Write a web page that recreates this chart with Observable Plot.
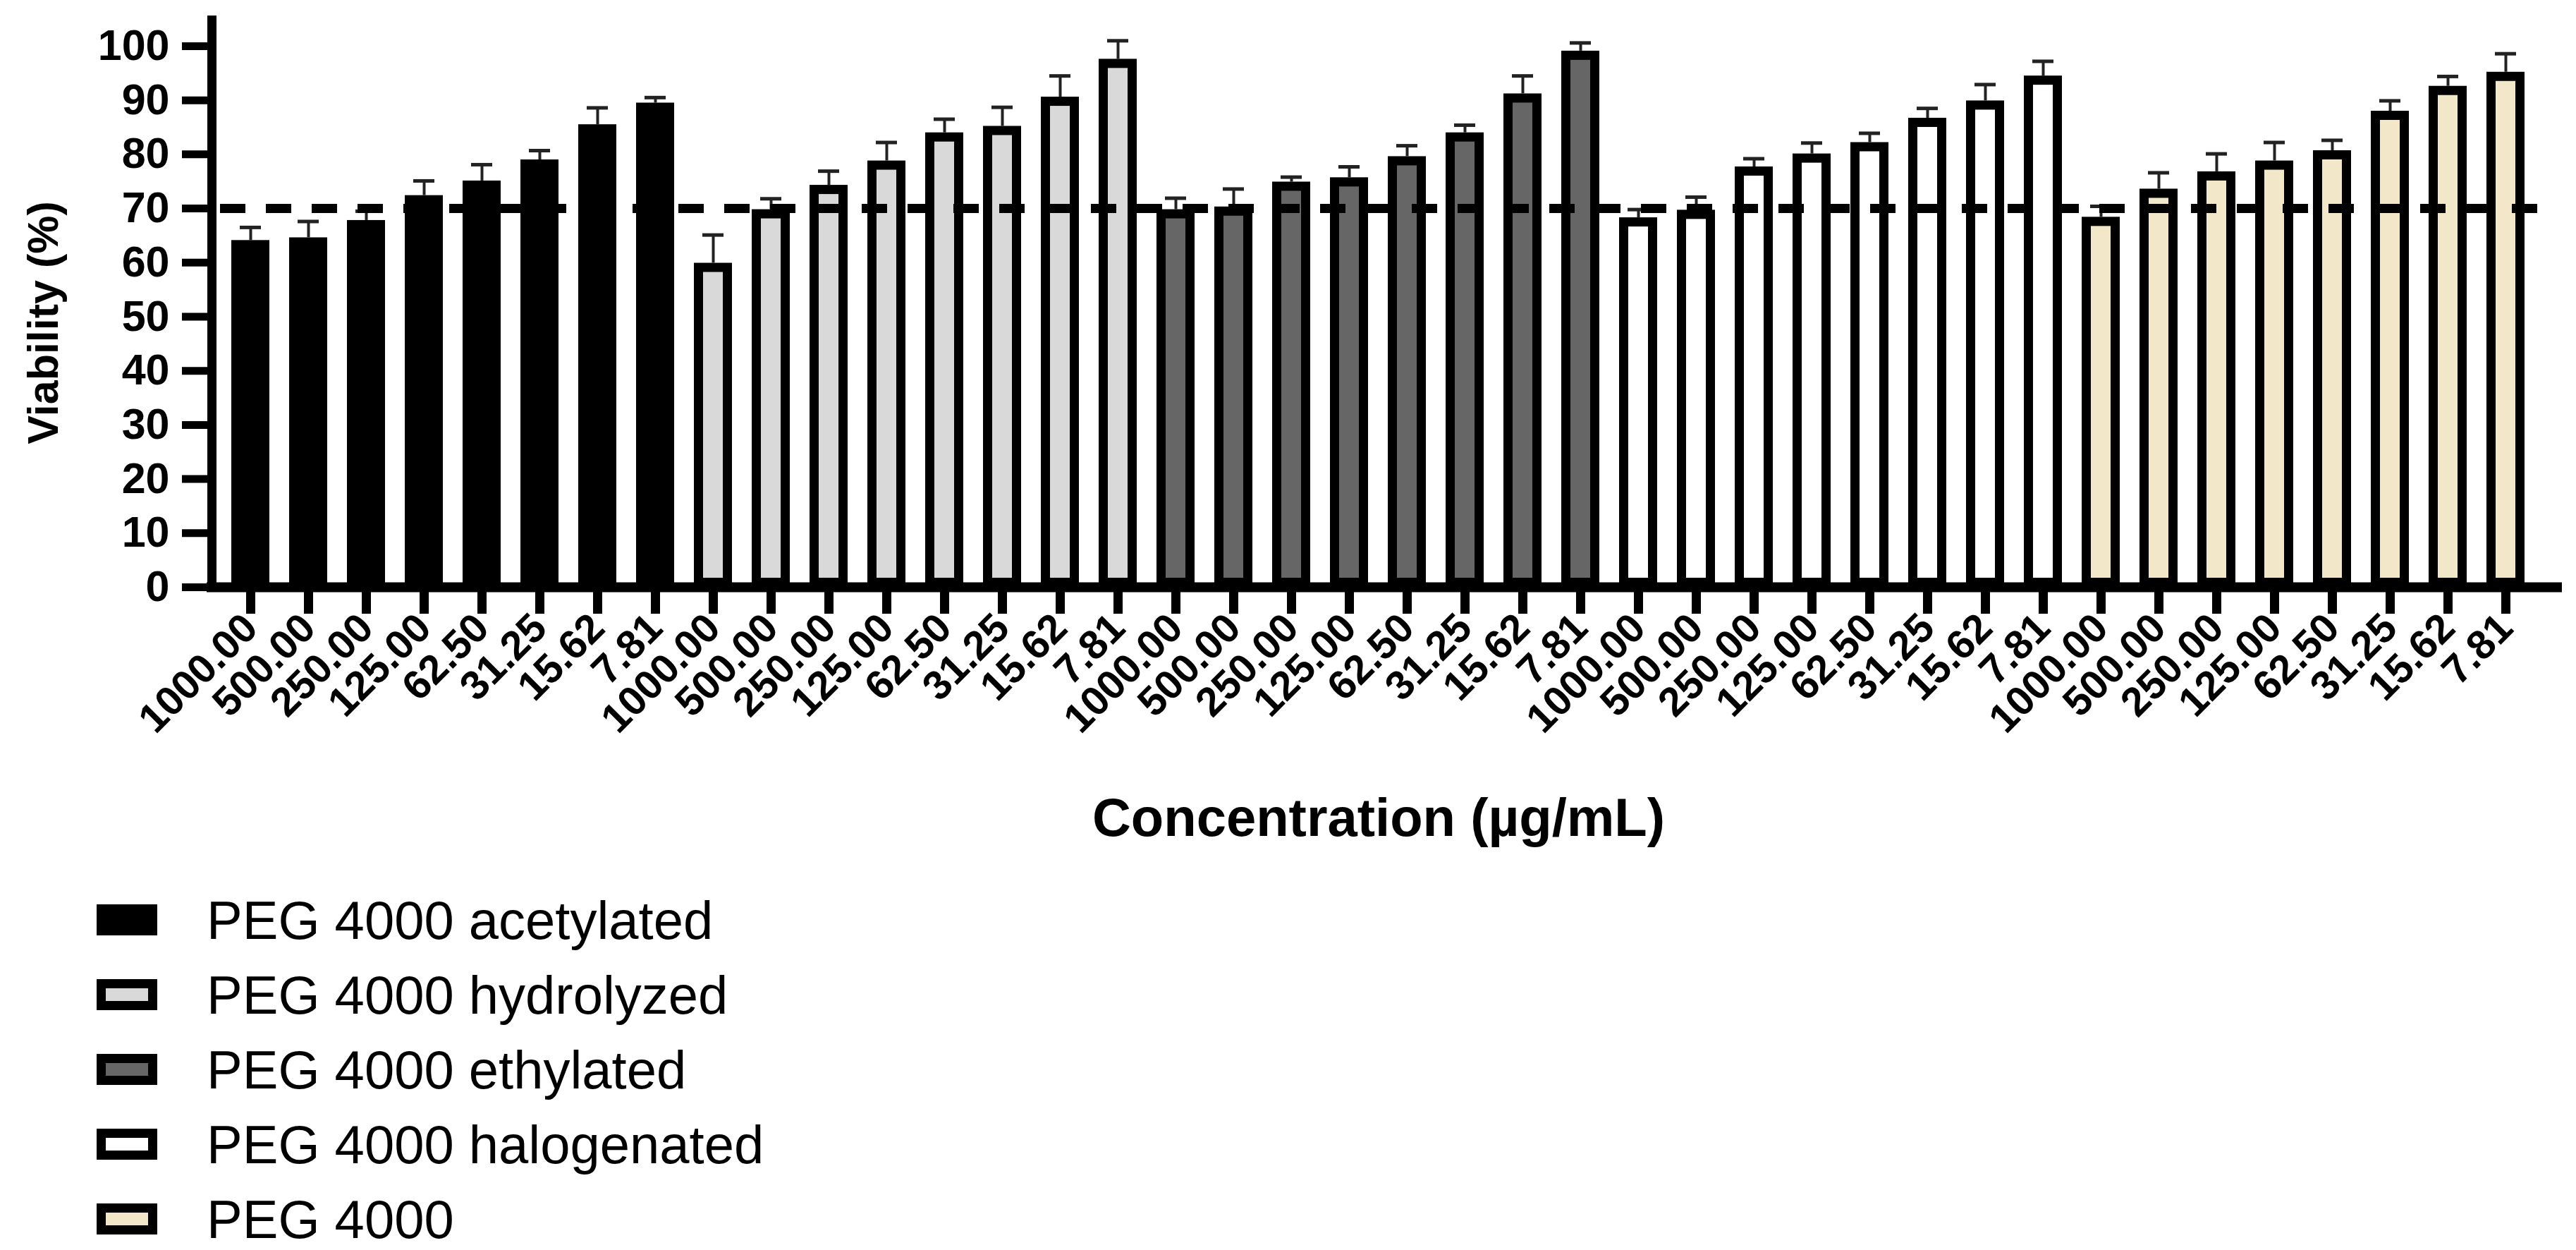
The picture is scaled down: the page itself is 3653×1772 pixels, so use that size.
<!DOCTYPE html>
<html>
<head>
<meta charset="utf-8">
<script src="https://cdn.jsdelivr.net/npm/d3@7"></script>
<script src="https://cdn.jsdelivr.net/npm/@observablehq/plot@0.6"></script>
<style>
  html, body { margin: 0; padding: 0; background: #fff; overflow: hidden; }
  #chart svg { display: block; }
  #legend { font-family: "Liberation Sans", Arial, sans-serif; font-size: 76px; color: #000;
            padding-top: 52px; padding-left: 137px; height: 490px; }
  .row { display: flex; align-items: center; height: 44px; margin-bottom: 62px; }
  .sw { width: 86px; height: 44px; box-sizing: border-box; border: 13px solid #000; margin-right: 70px; flex: none; }
</style>
</head>
<body>
<div id="chart"></div>
<div id="legend"></div>
<script>
// Concentration tick labels (µg/mL)
const concentrations = ["1000.00", "500.00", "250.00", "125.00", "62.50", "31.25", "15.62", "7.81"];
// Series
const groups = ["PEG 4000 acetylated", "PEG 4000 hydrolyzed", "PEG 4000 ethylated", "PEG 4000 halogenated", "PEG 4000"];
const groupColors = ["#000000", "#d9d9d9", "#666666", "#ffffff", "#f2e8c9"];
// Viability (%) means
const acetylated  = [64.1, 64.6, 67.8, 72.4, 75.1, 79.0, 85.5, 89.5];
const hydrolyzed  = [59.9, 69.8, 74.3, 78.8, 84.0, 85.2, 90.6, 97.6];
const ethylated   = [69.8, 70.3, 74.9, 75.7, 79.6, 84.0, 91.2, 99.1];
const halogenated = [68.3, 69.7, 77.7, 80.1, 82.2, 86.7, 89.9, 94.5];
const peg4000     = [68.4, 73.6, 76.8, 78.8, 80.7, 88.0, 92.6, 95.2];
// Upper error (SD)
const acetylatedErr  = [2.4, 3.0, 1.7, 2.7, 3.0, 1.7, 3.1, 1.0];
const hydrolyzedErr  = [5.2, 2.0, 2.6, 3.4, 2.5, 3.5, 3.9, 3.4];
const ethylatedErr   = [2.1, 3.3, 0.9, 2.0, 2.0, 1.4, 3.3, 1.5];
const halogenatedErr = [1.5, 2.4, 1.5, 2.0, 1.7, 1.8, 3.0, 2.7];
const peg4000Err     = [2.0, 3.0, 3.3, 3.4, 1.9, 1.9, 1.8, 3.4];
// Cytotoxicity threshold
const threshold = [70];
const yTicks = [0, 10, 20, 30, 40, 50, 60, 70, 80, 90, 100];

const seriesValues = [acetylated, hydrolyzed, ethylated, halogenated, peg4000];
const seriesErrors = [acetylatedErr, hydrolyzedErr, ethylatedErr, halogenatedErr, peg4000Err];

const rows = [];
groups.forEach((g, gi) => {
  concentrations.forEach((c, ci) => {
    rows.push({key: `${gi}|${c}`, group: g, conc: c,
               value: seriesValues[gi][ci], top: seriesValues[gi][ci] + seriesErrors[gi][ci]});
  });
});
const keys = rows.map(d => d.key);

const chart = Plot.plot({
  width: 3653,
  height: 1230,
  marginLeft: 299,
  marginRight: 43,
  marginTop: 22,
  marginBottom: 398,
  style: {fontFamily: "'Liberation Sans', Arial, sans-serif", fontWeight: "bold", color: "#000", background: "#fff"},
  x: {type: "band", domain: keys, padding: 0.34},
  y: {domain: [0, 105.6]},
  color: {domain: groups, range: groupColors},
  marks: [
    Plot.barY(rows, {x: "key", y: "value", fill: "group", stroke: "#000", strokeWidth: 13, inset: 6.5}),
    Plot.ruleX(rows, {x: "key", y1: "value", y2: "top", stroke: "#222", strokeWidth: 4}),
    Plot.tickY(rows, {x: "key", y: "top", stroke: "#222", strokeWidth: 5, insetLeft: 12, insetRight: 12}),
    Plot.ruleY(threshold, {stroke: "#000", strokeWidth: 13, strokeDasharray: "36,29", insetLeft: 13}),
    Plot.ruleY([0], {stroke: "#000", strokeWidth: 14, insetLeft: -6, insetRight: -23}),
    Plot.ruleX([keys[0]], {x: d => d, dx: -55, stroke: "#000", strokeWidth: 13}),
    Plot.axisY({ticks: yTicks, tickSize: 41, tickPadding: 18, fontSize: 61, strokeWidth: 11, label: null}),
    Plot.axisX({tickSize: 38, tickPadding: 10, tickRotate: -45, fontSize: 58, strokeWidth: 13,
                tickFormat: d => d.split("|")[1], label: null}),
    Plot.text(["Concentration (µg/mL)"], {text: d => d, frameAnchor: "bottom", dy: 328, fontSize: 76, fontWeight: "bold", lineAnchor: "middle"}),
    Plot.text(["Viability (%)"], {text: d => d, frameAnchor: "left", rotate: -90, dx: -237, dy: 30, fontSize: 61, fontWeight: "bold", lineAnchor: "middle", textAnchor: "middle"})
  ]
});
document.getElementById("chart").appendChild(chart);

const legend = document.getElementById("legend");
groups.forEach((g, i) => {
  const row = document.createElement("div");
  row.className = "row";
  const sw = document.createElement("span");
  sw.className = "sw";
  sw.style.background = groupColors[i];
  const lab = document.createElement("span");
  lab.textContent = g;
  row.appendChild(sw);
  row.appendChild(lab);
  legend.appendChild(row);
});
</script>
</body>
</html>
